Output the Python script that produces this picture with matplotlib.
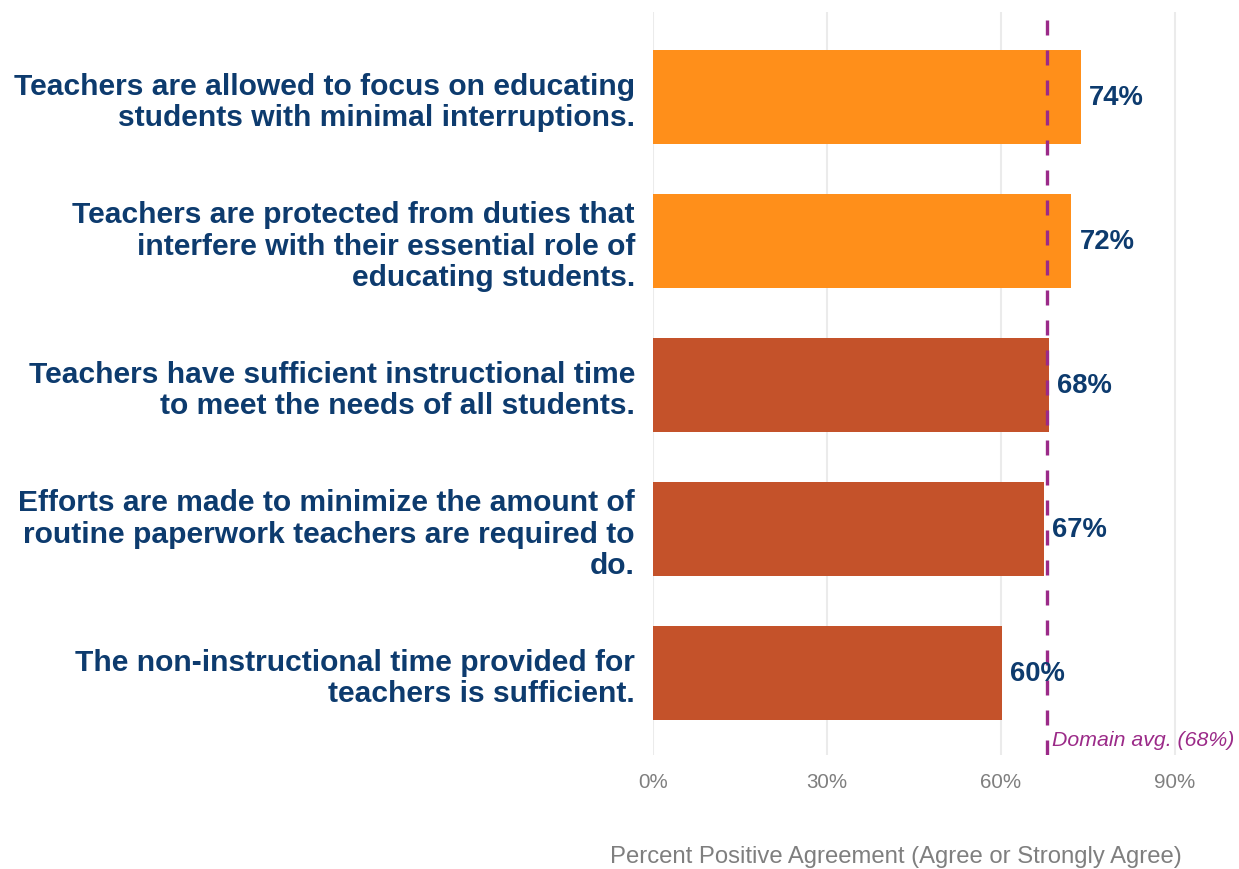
import matplotlib.pyplot as plt

plt.rcParams['font.family'] = ['Liberation Sans', 'DejaVu Sans']

# Data
items = [
    "Teachers are allowed to focus on educating\nstudents with minimal interruptions.",
    "Teachers are protected from duties that\ninterfere with their essential role of\neducating students.",
    "Teachers have sufficient instructional time\nto meet the needs of all students.",
    "Efforts are made to minimize the amount of\nroutine paperwork teachers are required to\ndo.",
    "The non-instructional time provided for\nteachers is sufficient.",
]
values = [73.8, 72.2, 68.3, 67.4, 60.2]
above_avg = [True, True, False, False, False]
domain_avg = 68
xticks = [0, 30, 60, 90]

orange = '#FF8F1A'
rust = '#C4522A'
navy = '#0D3B6E'
purple = '#9B2A88'
gray = '#7F7F7F'

fig = plt.figure(figsize=(12.39, 8.70), dpi=100)
ax = fig.add_axes([653 / 1239, 114 / 870, 539 / 1239, 743 / 870])

pos = list(range(len(items)))
colors = [orange if a else rust for a in above_avg]
ax.barh(pos, values, height=0.65, color=colors, zorder=2)

for p, v in zip(pos, values):
    ax.text(v + 1.4, p, f"{round(v)}%", va='center', ha='left',
            fontsize=19.8, fontweight='bold', color=navy, zorder=4)

ax.axvline(domain_avg, color=purple, lw=2.4, ls=(0, (4.5, 4.5)), zorder=3)
ax.text(domain_avg + 0.8, 4.46, f"Domain avg. ({domain_avg}%)", color=purple,
        fontsize=15.3, style='italic', ha='left', va='center', zorder=4)

ax.set_xlim(0, 93)
ax.set_ylim(4.57, -0.59)
ax.set_xticks(xticks)
ax.set_xticklabels([f"{t}%" for t in xticks], color=gray, fontsize=14.8)
ax.set_yticks(pos)
ax.set_yticklabels(items, fontsize=21.6, fontweight='bold', color=navy,
                   linespacing=1.16)
ax.tick_params(axis='both', length=0)
ax.tick_params(axis='y', pad=13)
ax.tick_params(axis='x', pad=12)
ax.grid(axis='x', color='#EBEBEB', lw=1.5, zorder=0)
ax.grid(axis='y', visible=False)
for s in ax.spines.values():
    s.set_visible(False)

fig.text(1182 / 1239, 1 - 857 / 870, "Percent Positive Agreement (Agree or Strongly Agree)",
         ha='right', va='center', fontsize=17.2, color=gray)

fig.savefig("out.png", dpi=100)
